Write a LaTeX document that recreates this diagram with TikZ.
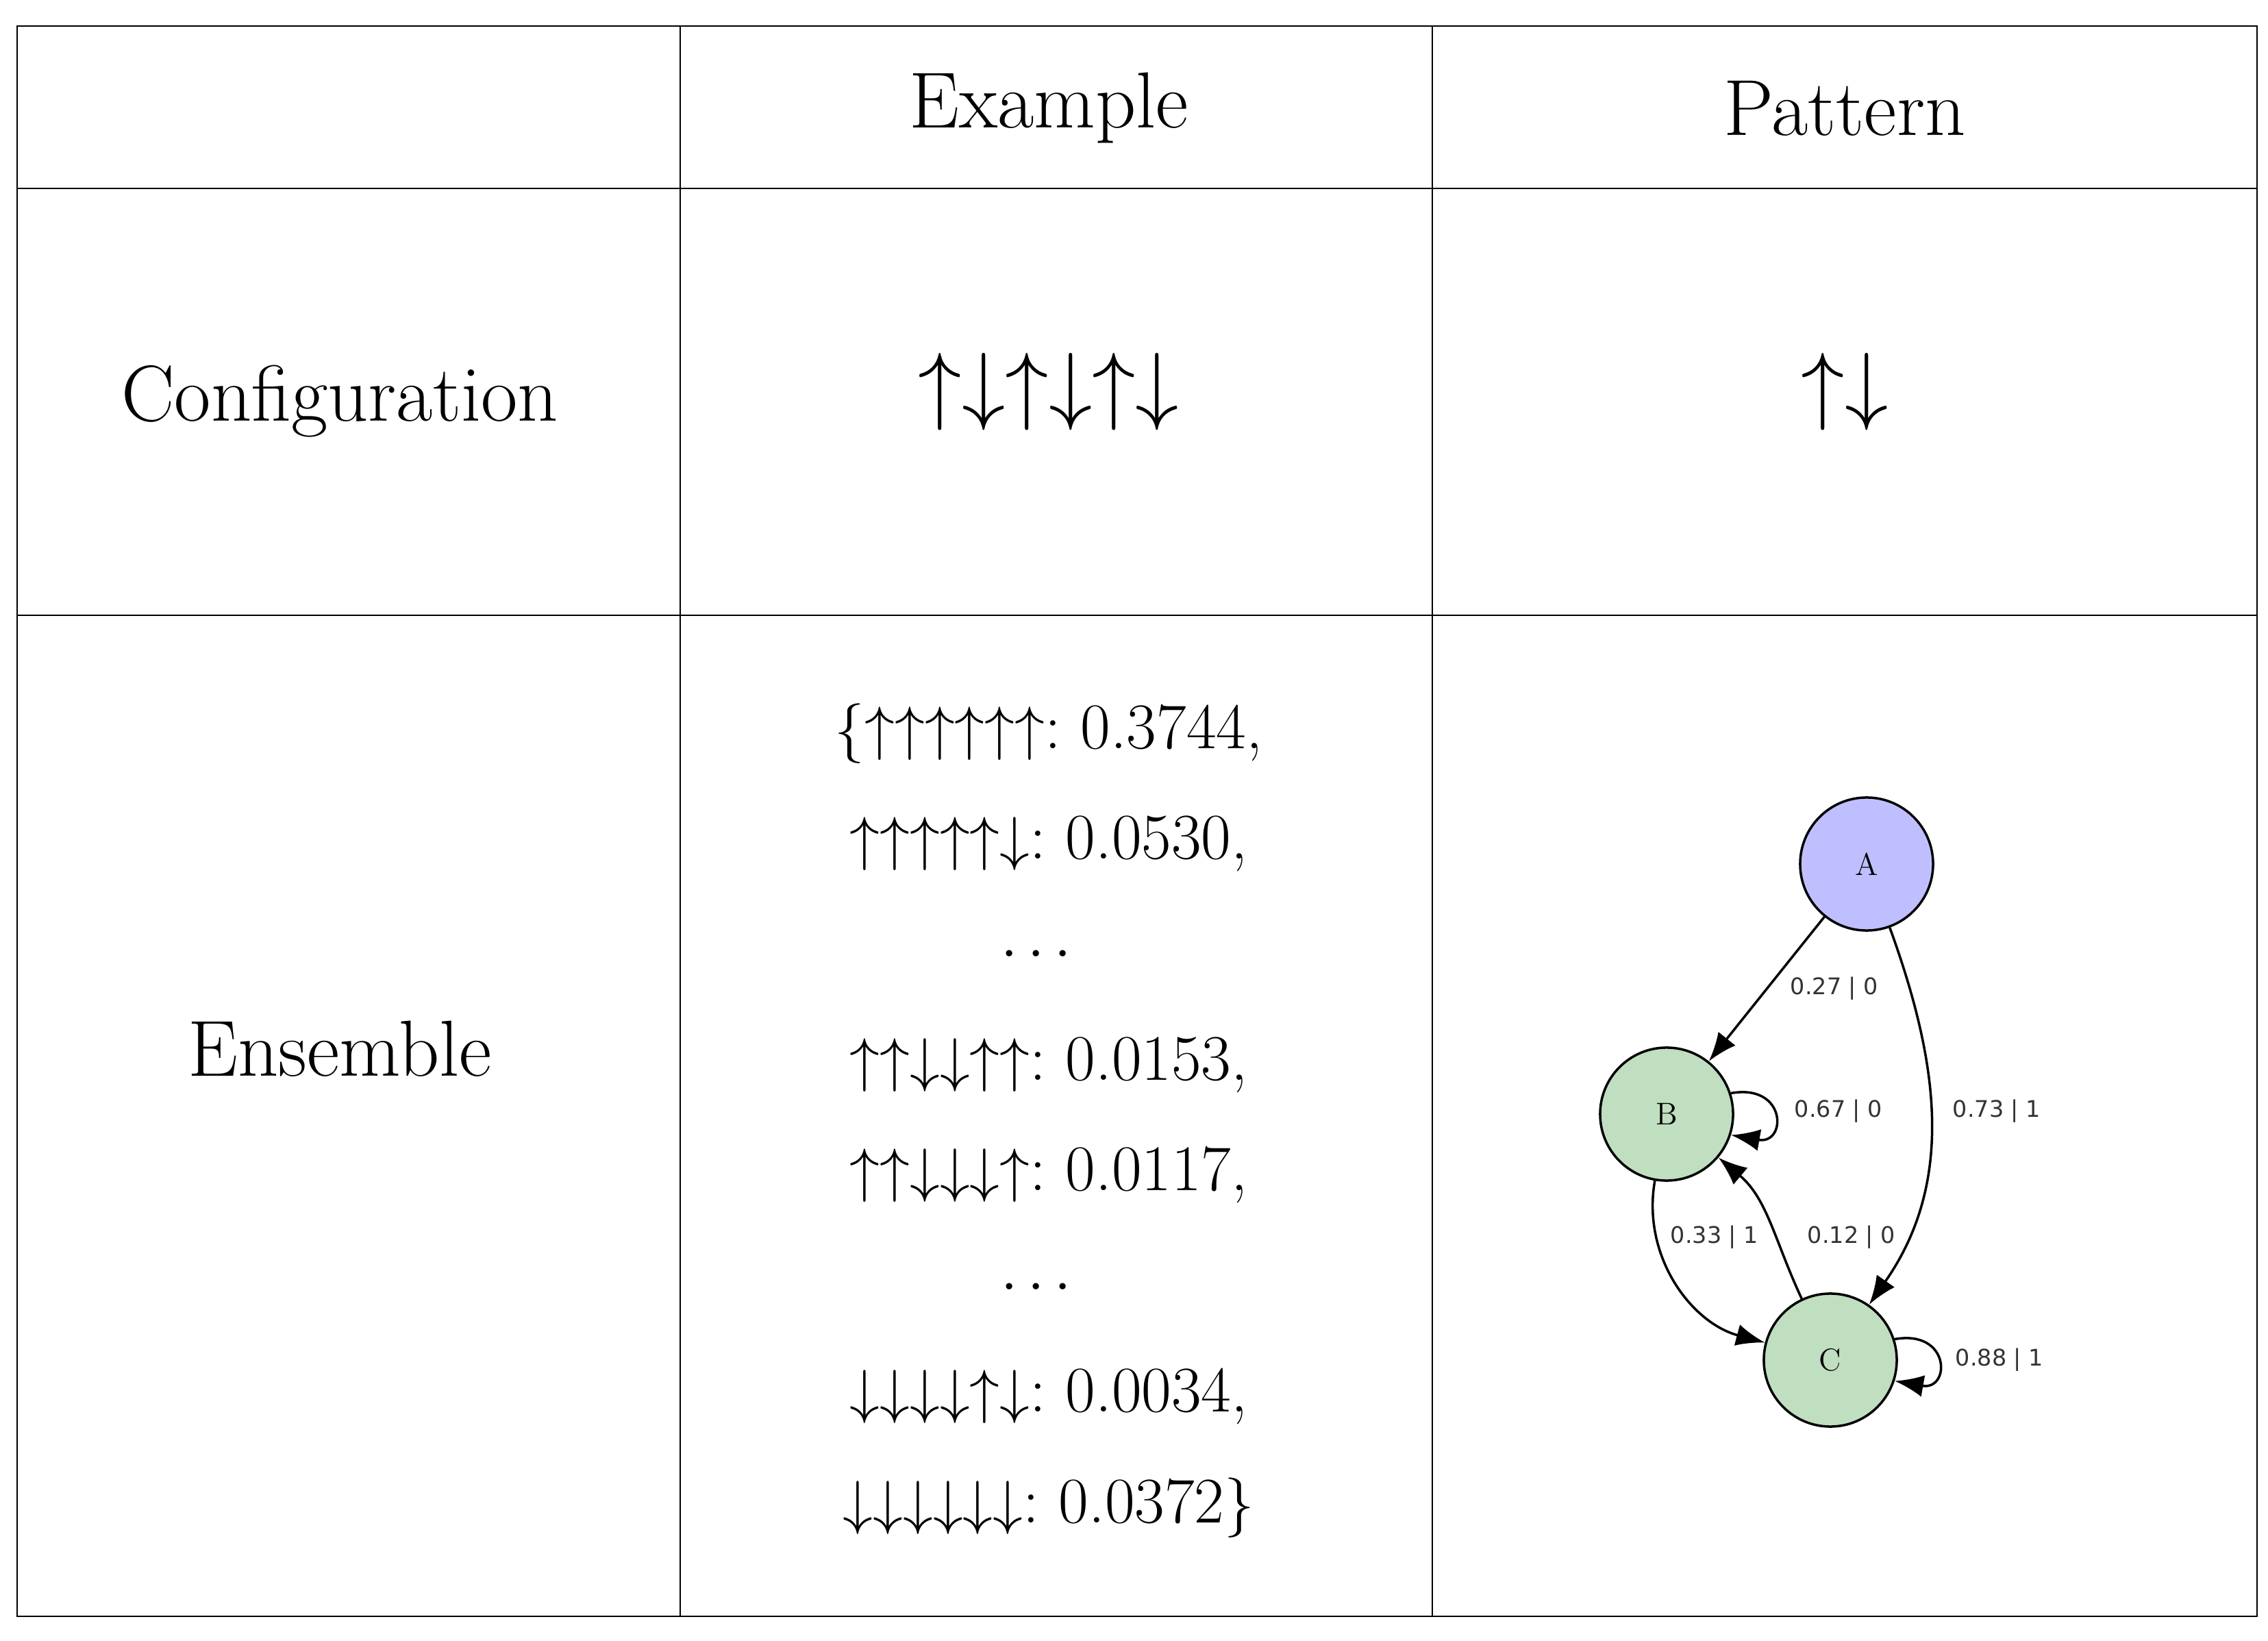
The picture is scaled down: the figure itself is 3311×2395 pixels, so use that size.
\documentclass[tikz,border=0pt]{standalone}
\usepackage{xcolor}
\usepackage{tikz}
\usepackage{amsmath}
\usepackage{amssymb}
\usepackage{fontspec}
\newfontfamily\lblfont{DejaVu Sans}
\usetikzlibrary{arrows.meta}
\definecolor{stateA}{HTML}{BFBFFF}
\definecolor{stateBC}{HTML}{C0DEC0}
\tikzset{
  cell/.style={font=\fontsize{33}{38}\selectfont},
  spins/.style={font=\fontsize{27}{32}\selectfont,scale=1.45},
  entry/.style={font=\fontsize{27}{32}\selectfont},
  state/.style={circle,draw,line width=1pt,minimum size=1.94cm,inner sep=0pt,font=\fontsize{13}{15}\selectfont},
  edge/.style={line width=1pt,-{Latex[length=0.42cm,width=0.32cm]}},
  lbl/.style={font=\lblfont\fontsize{9.5}{11}\selectfont,text=black!80}
}
\begin{document}
\begin{tikzpicture}[x=0.01cm,y=-0.01cm]
        \useasboundingbox (0,0) rectangle (3311,2395);
        % Grid
        \draw[line width=0.6pt] (25,38) rectangle (3295,2359);
        \draw[line width=0.6pt] (25,275) -- (3295,275);
        \draw[line width=0.6pt] (25,898) -- (3295,898);
        \draw[line width=0.6pt] (993,38) -- (993,2359);
        \draw[line width=0.6pt] (2091,38) -- (2091,2359);
        
        % Header
        \node[cell] (hex) at (1531,158) {Example};
        \node[cell] (hpat) at (2693,158) {Pattern};
        
        % Configuration row
        \node[cell] (conf) at (496,586) {Configuration};
        \node[spins] (confex) at (1531,572) {$\uparrow\downarrow\uparrow\downarrow\uparrow\downarrow$};
        \node[spins] (confpat) at (2693,572) {$\uparrow\downarrow$};
        
        % Ensemble row
        \node[cell] (ens) at (496,1531) {Ensemble};
        \node[entry] (e1) at (1531,1071) {$\{\uparrow\uparrow\uparrow\uparrow\uparrow\uparrow$:~0.3744,};
        \node[entry] (e2) at (1531,1231) {$\uparrow\uparrow\uparrow\uparrow\uparrow\downarrow$:~0.0530,};
        \node[entry] (e3) at (1520,1394) {$\cdots$};
        \node[entry] (e4) at (1531,1554) {$\uparrow\uparrow\downarrow\downarrow\uparrow\uparrow$:~0.0153,};
        \node[entry] (e5) at (1531,1715) {$\uparrow\uparrow\downarrow\downarrow\downarrow\uparrow$:~0.0117,};
        \node[entry] (e6) at (1520,1880) {$\cdots$};
        \node[entry] (e7) at (1531,2038) {$\downarrow\downarrow\downarrow\downarrow\uparrow\downarrow$:~0.0034,};
        \node[entry] (e8) at (1531,2201) {$\downarrow\downarrow\downarrow\downarrow\downarrow\downarrow$:~0.0372$\}$};
        
        % Pattern graph
        \node[state,fill=stateA] (A) at (2725,1261) {A};
        \node[state,fill=stateBC] (B) at (2433,1626) {B};
        \node[state,fill=stateBC] (C) at (2672,1985) {C};
        \draw[edge] (A) -- (B);
        \draw[edge] (A) to[out=-70,in=55] (C);
        \draw[edge] (B) to[out=-100,in=165] (C);
        \draw[edge] (C) to[out=115,in=-40] (B);
        \draw[edge] (B.18) to[out=10,in=-10,looseness=3.5] (B.-18);
        \draw[edge] (C.18) to[out=10,in=-10,looseness=3.5] (C.-18);
        \node[lbl] (l1) at (2678,1443) {0.27 | 0};
        \node[lbl] (l2) at (2684,1622) {0.67 | 0};
        \node[lbl] (l3) at (2915,1622) {0.73 | 1};
        \node[lbl] (l4) at (2503,1806) {0.33 | 1};
        \node[lbl] (l5) at (2703,1806) {0.12 | 0};
        \node[lbl] (l6) at (2919,1985) {0.88 | 1};
\end{tikzpicture}
\end{document}
